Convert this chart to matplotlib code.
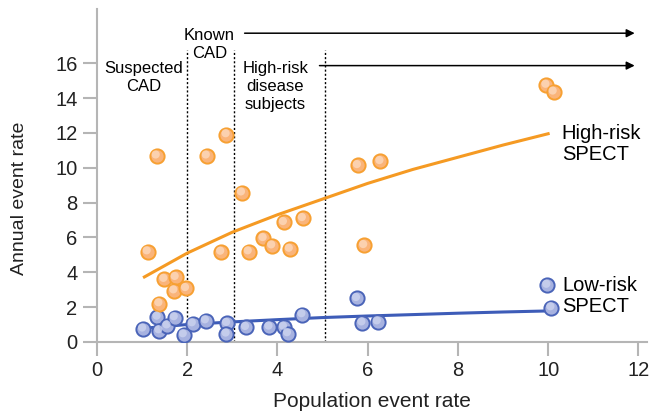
import matplotlib
matplotlib.use("Agg")
import matplotlib.pyplot as plt
import numpy as np

plt.rcParams['font.family'] = ['Liberation Sans', 'DejaVu Sans']

# scatter points
high_x = [1.12, 1.32, 1.49, 1.74, 1.71, 1.97, 1.38, 2.43, 2.87, 2.75, 3.21, 3.36,
          3.69, 3.88, 4.27, 4.14, 4.56, 5.78, 5.92, 6.28, 9.96, 10.12]
high_y = [5.18, 10.68, 3.60, 3.71, 2.94, 3.07, 2.20, 10.68, 11.90, 5.16, 8.56, 5.18,
          5.94, 5.52, 5.33, 6.86, 7.09, 10.13, 5.54, 10.36, 14.74, 14.35]
low_x = [1.02, 1.34, 1.38, 1.56, 1.72, 1.92, 2.12, 2.41, 2.88, 2.87, 3.30, 3.82,
         4.14, 4.23, 4.55, 5.76, 5.88, 6.22, 9.98, 10.07]
low_y = [0.75, 1.43, 0.65, 0.93, 1.40, 0.42, 1.05, 1.22, 1.07, 0.46, 0.84, 0.86,
         0.86, 0.48, 1.57, 2.50, 1.10, 1.16, 3.26, 1.97]

# fitted curves (read at a few x positions)
fit_x_high = [1.05, 2, 3, 4, 5, 6, 7, 8, 9, 10]
fit_y_high = [3.73, 5.10, 6.30, 7.30, 8.20, 9.10, 9.90, 10.60, 11.30, 11.95]
fit_x_low = [1.1, 2, 3, 4, 5, 6, 7, 8, 9, 10]
fit_y_low = [0.80, 1.00, 1.15, 1.28, 1.40, 1.49, 1.57, 1.65, 1.72, 1.78]

group_bounds = [2.0, 3.03, 5.05]

fig = plt.figure(figsize=(6.49, 4.16), dpi=100)
ax = fig.add_axes([0.1495, 0.178, 0.848, 0.8])

ax.plot(fit_x_high, fit_y_high, color='#f59a23', lw=2.2, zorder=2)
ax.plot(fit_x_low, fit_y_low, color='#3d5cb8', lw=2.2, zorder=2)

ax.scatter(low_x, low_y, s=105, facecolor='#a7b2e0', edgecolor='#4a64b8', lw=1.4, zorder=3)
ax.scatter(np.array(low_x) - 0.02, np.array(low_y) + 0.08, s=35, facecolor='#ccd3ef',
           edgecolor='none', alpha=0.8, zorder=4)
ax.scatter(high_x, high_y, s=105, facecolor='#fab47a', edgecolor='#f7a032', lw=1.4, zorder=3)
ax.scatter(np.array(high_x) - 0.02, np.array(high_y) + 0.08, s=35, facecolor='#fcd9bd',
           edgecolor='none', alpha=0.8, zorder=4)

for b in group_bounds:
    ax.plot([b, b], [0, 16.75], color='black', lw=1.0, ls=(0, (1.5, 1.5)), zorder=1)

# group arrows
ax.annotate('', xy=(11.98, 17.72), xytext=(3.21, 17.72),
            arrowprops=dict(arrowstyle='-|>', color='black', lw=1.1, mutation_scale=12))
ax.annotate('', xy=(11.98, 15.86), xytext=(4.87, 15.86),
            arrowprops=dict(arrowstyle='-|>', color='black', lw=1.1, mutation_scale=12))

ax.text(1.03, 15.2, 'Suspected\nCAD', ha='center', va='center', fontsize=12, linespacing=1.25)
ax.text(2.49, 17.1, 'Known\nCAD', ha='center', va='center', fontsize=12, linespacing=1.25)
ax.text(3.95, 14.65, 'High-risk\ndisease\nsubjects', ha='center', va='center', fontsize=12,
        linespacing=1.25)

ax.text(10.3, 11.35, 'High-risk\nSPECT', ha='left', va='center', fontsize=14.5, linespacing=1.15)
ax.text(10.32, 2.64, 'Low-risk\nSPECT', ha='left', va='center', fontsize=14.5, linespacing=1.15)

ax.set_xlim(0, 12.2)
ax.set_ylim(0, 19.1)
ax.set_xticks([0, 2, 4, 6, 8, 10, 12])
ax.set_yticks([0, 2, 4, 6, 8, 10, 12, 14, 16])
for s in ['top', 'right']:
    ax.spines[s].set_visible(False)
for s in ['left', 'bottom']:
    ax.spines[s].set_color('#b5b5b5')
    ax.spines[s].set_linewidth(1.5)
ax.tick_params(length=10, width=1.5, color='#b5b5b5', labelsize=14.5, labelcolor='#222222', pad=4)

ax.set_xlabel('Population event rate', fontsize=15, color='#222222', labelpad=8)
ax.set_ylabel('Annual event rate', fontsize=14, color='#222222')
ax.yaxis.set_label_coords(-0.125, 0.433)

fig.savefig('out.png', dpi=100)
